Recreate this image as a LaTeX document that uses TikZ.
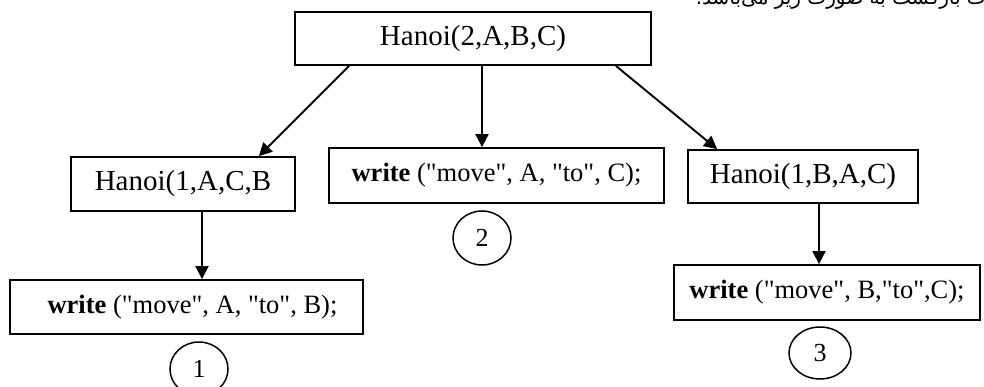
\documentclass[tikz,border=0pt]{standalone}
\usepackage{fontspec}
\setmainfont{Liberation Serif}[Ligatures=TeXOff]
\newfontfamily\farsifont[Script=Arabic]{DejaVu Sans}
\TeXXeTstate=1
\usetikzlibrary{arrows.meta,shapes.geometric}

\tikzset{
  box/.style={draw, line width=1.8pt, rectangle, inner sep=0pt, align=center},
  callbox/.style={box, font=\fontsize{29}{29}\selectfont},
  writebox/.style={box, font=\fontsize{26.5}{26.5}\selectfont},
  stepmark/.style={draw, line width=1.5pt, ellipse, inner sep=0pt,
                   font=\fontsize{26}{26}\selectfont},
  arr/.style={line width=1.9pt, -{Triangle[length=13pt,width=13pt]}}
}

\begin{document}
\begin{tikzpicture}[x=1pt, y=-1pt]
  \useasboundingbox (0,0) rectangle (984,387);
  \clip (0,0) rectangle (984,387);

  % heading line of the surrounding text, only its lower part shows
  \node[anchor=base east, inner sep=0pt, font=\farsifont\fontsize{20}{20}\selectfont]
    (caption) at (986,4.5) {\beginR ت بازگشت به صورت زیر می‌باشد.\endR};

  % call tree
  \node[callbox, minimum width=356pt, minimum height=53pt] (top) at (473,38.5) {Hanoi(2,A,B,C)};
  \node[callbox, minimum width=224pt, minimum height=54pt] (h1) at (183,184) {Hanoi(1,A,C,B};
  \node[writebox, minimum width=335pt, minimum height=55pt] (w2) at (496.5,175.5)
    {\textbf{write} ("move", A, "to", C);};
  \node[callbox, minimum width=230pt, minimum height=53pt] (h3) at (803,176.5) {Hanoi(1,B,A,C)};
  \node[writebox, minimum width=353pt, minimum height=54pt] (w1) at (186.5,307)
    {\hspace*{12pt}\textbf{write} ("move", A, "to", B);};
  \node[writebox, minimum width=306pt, minimum height=55pt] (w3) at (827,292.5)
    {\textbf{write} ("move", B,"to",C);};

  % order of the moves
  \node[stepmark, minimum width=58pt, minimum height=54pt] (c1) at (199,369) {1};
  \node[stepmark, minimum width=58pt, minimum height=54pt] (c2) at (482,238) {2};
  \node[stepmark, minimum width=62pt, minimum height=52pt] (c3) at (820,353) {3};

  % connectors
  \draw[arr] ([xshift=55pt]top.south west) -- ([xshift=-37pt]h1.north east);
  \draw[arr] ([xshift=9pt]top.south) -- ([xshift=9pt]top.south |- w2.north);
  \draw[arr] ([xshift=-36pt]top.south east) -- ([xshift=30pt]h3.north west);
  \draw[arr] ([xshift=19pt]h1.south) -- ([xshift=19pt]h1.south |- w1.north);
  \draw[arr] ([xshift=16pt]h3.south) -- ([xshift=16pt]h3.south |- w3.north);
\end{tikzpicture}
\end{document}
